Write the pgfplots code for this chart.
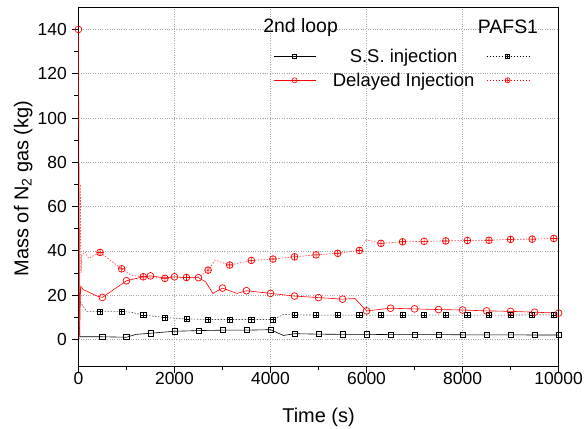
\documentclass[border=0pt]{standalone}
\usepackage{pgfplots}
\pgfplotsset{compat=1.18}
\usepackage{fontspec}
\setmainfont{Liberation Sans}

% square with a plus inside (PAFS1 S.S. marker)
\pgfdeclareplotmark{boxplus}{%
  \pgfpathrectangle{\pgfpoint{-\pgfplotmarksize}{-\pgfplotmarksize}}{\pgfpoint{2\pgfplotmarksize}{2\pgfplotmarksize}}%
  \pgfusepathqfillstroke
  \pgfpathmoveto{\pgfpoint{-\pgfplotmarksize}{0pt}}\pgfpathlineto{\pgfpoint{\pgfplotmarksize}{0pt}}%
  \pgfpathmoveto{\pgfpoint{0pt}{-\pgfplotmarksize}}\pgfpathlineto{\pgfpoint{0pt}{\pgfplotmarksize}}%
  \pgfusepathqstroke}

\pgfplotstableread{
x y
0 16
30 1.2
500 1.2
1000 1.0
1200 2.3
1500 2.8
2000 3.7
2500 4.0
3000 4.2
3500 4.2
4000 4.4
4270 1.8
4500 2.6
5000 2.4
5500 2.3
6000 2.3
6500 2.2
7000 2.2
7500 2.2
8000 2.1
8500 2.1
9000 2.1
9500 2.0
10000 2.0
}\ssloop

\pgfplotstableread{
x y
30 17
100 15
170 12.6
450 12.6
900 12.6
1100 12.3
1350 11.0
1800 9.9
2250 9.3
2700 9.0
3150 9.0
3600 9.0
4050 9.0
4270 11.3
4500 11.1
4950 11.0
5400 11.0
5850 11.0
6300 11.0
6750 11.0
7200 11.0
7650 11.0
8100 11.0
8550 11.0
9000 11.0
9450 11.1
9900 11.1
10000 11.1
}\sspafs

\pgfplotstableread{
x y
0 140
25 1
45 24
100 22.5
250 21
400 19.5
500 19.0
700 22
1000 26.5
1350 28.3
1500 28.7
1800 27.8
2000 28.3
2250 27.9
2500 27.9
2650 26
2800 20.8
3000 23.2
3300 20.8
3500 22.0
4000 20.8
4500 19.6
5000 18.9
5500 18.2
5760 18.5
6000 12.9
6500 14.1
7000 13.8
7500 13.5
8000 13.3
8500 12.9
9000 12.7
9500 12.3
10000 11.9
}\dlloop

\pgfplotstableread{
x y
20 0
40 70
55 30
70 38
140 39.6
210 36.6
450 39.3
650 36
900 31.9
1100 29
1350 28.3
1800 27.6
2250 28.0
2500 28.2
2700 31.3
2850 35.8
3150 33.6
3600 35.7
4050 36.3
4500 37.3
4950 38.2
5400 38.9
5850 40.2
6000 45.0
6300 43.4
6750 44.1
7200 44.3
7650 44.5
8100 44.7
8550 44.8
9000 45.2
9450 45.3
9900 45.6
10000 45.6
}\dlpafs

\begin{document}
\begin{tikzpicture}
\begin{axis}[
    scale only axis,
    width=480bp, height=358.6bp,
    xmin=0, xmax=10000, ymin=-12, ymax=150,
    xtick={0,2000,...,10000}, ytick={0,20,...,140},
    minor x tick num=1, minor y tick num=1,
    tick align=outside, xtick pos=left, ytick pos=left,
    major tick length=6.5bp, minor tick length=4bp,
    grid=major,
    major grid style={dotted, gray!70, line width=0.6pt},
    axis line style={line width=0.8pt},
    tick style={line width=0.8pt, black},
    scaled x ticks=false,
    xticklabel style={/pgf/number format/1000 sep={}, inner sep=0pt},
    yticklabel style={inner sep=0pt, xshift=-5bp},
    /pgf/number format/assume math mode=true,
    tick label style={font=\fontsize{17.5}{21}\selectfont},
    label style={font=\fontsize{20}{24}\selectfont},
    xlabel={Time (s)},
    xlabel style={at={([yshift=-56bp]axis description cs:0.5,0)}, anchor=base},
    ylabel={Mass of N\textsubscript{2} gas (kg)},
    ylabel style={at={([xshift=-50bp]axis description cs:0,0.495)}, anchor=base, rotate=0},
    legend columns=2,
    legend cell align=center,
    legend image code/.code={\draw[mark repeat=2,mark phase=2,#1] plot coordinates {(0bp,0bp)(21bp,0bp)(42bp,0bp)};},
    legend style={draw=none, fill=none, inner sep=0pt, nodes={inner sep=0pt},
      at={(axis description cs:0.4054,0.8295)}, anchor=west,
      row sep=8.8bp,
      font=\fontsize{18.5}{22}\selectfont,
      /tikz/column 1/.style={column sep=17bp},
      /tikz/column 2/.style={column sep=12bp}},
]
% lines
\addplot[forget plot, black, line width=0.6pt] table {\ssloop};
\addplot[forget plot, black!70, line width=0.6pt, dash pattern=on 1.5pt off 1.5pt] table {\sspafs};
\addplot[forget plot, red, line width=0.6pt] table {\dlloop};
\addplot[forget plot, red!75, line width=0.6pt, dash pattern=on 1.5pt off 1.5pt] table {\dlpafs};
% markers
\addplot[forget plot, only marks, black, mark=square, mark size=2.6bp, mark options={line width=0.7pt}] coordinates {
(500,1.2)(1000,1.0)(1500,2.8)(2000,3.7)(2500,4.0)(3000,4.2)(3500,4.2)(4000,4.4)(4500,2.6)(5000,2.4)
(5500,2.3)(6000,2.3)(6500,2.2)(7000,2.2)(7500,2.2)(8000,2.1)(8500,2.1)(9000,2.1)(9500,2.0)(10000,2.0)};
\addplot[forget plot, only marks, black, mark=boxplus, mark size=2.6bp, mark options={line width=0.7pt, fill=white}] coordinates {
(450,12.6)(900,12.6)(1350,11.0)(1800,9.9)(2250,9.3)(2700,9.0)(3150,9.0)(3600,9.0)(4050,9.0)(4500,11.1)(4950,11.0)
(5400,11.0)(5850,11.0)(6300,11.0)(6750,11.0)(7200,11.0)(7650,11.0)(8100,11.0)(8550,11.0)(9000,11.0)(9450,11.1)(9900,11.1)};
\addplot[forget plot, only marks, red, mark=o, mark size=3.4bp, mark options={line width=0.7pt, fill=white}] coordinates {
(0,140)(500,19.0)(1000,26.5)(1500,28.7)(2000,28.3)(2500,27.9)(3000,23.2)(3500,22.0)(4000,20.8)(4500,19.6)(5000,18.9)
(5500,18.2)(6000,12.9)(6500,14.1)(7000,13.8)(7500,13.5)(8000,13.3)(8500,12.9)(9000,12.7)(9500,12.3)(10000,11.9)};
\addplot[forget plot, only marks, red, mark=oplus, mark size=3.4bp, mark options={line width=0.7pt, fill=white}] coordinates {
(450,39.3)(900,31.9)(1350,28.3)(1800,27.6)(2250,28.0)(2700,31.3)(3150,33.6)(3600,35.7)(4050,36.3)(4500,37.3)(4950,38.2)
(5400,38.9)(5850,40.2)(6300,43.4)(6750,44.1)(7200,44.3)(7650,44.5)(8100,44.7)(8550,44.8)(9000,45.2)(9450,45.3)(9900,45.6)};
% legend
\addlegendimage{black, line width=0.6pt, mark=square, mark size=2bp, mark options={solid, fill=white}}
\addlegendentry{S.S. injection}
\addlegendimage{black, line width=0.6pt, dash pattern=on 1.5pt off 1.5pt, mark=boxplus, mark size=2bp, mark options={solid, fill=white}}
\addlegendentry{}
\addlegendimage{red, line width=0.6pt, mark=o, mark size=2.6bp, mark options={solid, fill=white}}
\addlegendentry{Delayed Injection}
\addlegendimage{red, line width=0.6pt, dash pattern=on 1.5pt off 1.5pt, mark=oplus, mark size=2.6bp, mark options={solid, fill=white}}
\addlegendentry{}
\node[font=\fontsize{19.5}{23}\selectfont] at (axis cs:4627,141) {2nd loop};
\node[font=\fontsize{19.5}{23}\selectfont] at (axis cs:8946,141.4) {PAFS1};
\end{axis}
\pgfresetboundingbox
\path ([shift={(-78.4bp,-62.1bp)}]current axis.south west) rectangle ([shift={(26.4bp,7.3bp)}]current axis.north east);
\end{tikzpicture}
\end{document}
